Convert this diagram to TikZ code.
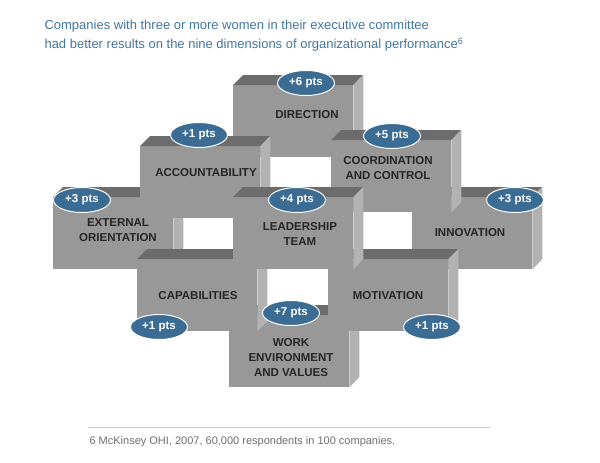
\documentclass[tikz,border=0pt]{standalone}
\usepackage{fontspec}
\setmainfont{Liberation Sans}
\usetikzlibrary{shapes.geometric}
\definecolor{titleblue}{RGB}{66,118,160}
\definecolor{badgeblue}{RGB}{58,108,148}
\definecolor{frontgray}{RGB}{152,152,152}
\definecolor{topgray}{RGB}{108,108,108}
\definecolor{sidegray}{RGB}{178,178,178}
\definecolor{notegray}{RGB}{110,110,110}
\tikzstyle{front} = [rectangle, anchor=north west, minimum width=120pt, minimum height=72pt, inner sep=0pt,
fill=frontgray]
\tikzstyle{topface} = [fill=topgray]
\tikzstyle{sideface} = [fill=sidegray]
\tikzstyle{boxlabel} = [align=center, font=\fontsize{11.5}{15}\selectfont\bfseries, text=black!85]
\tikzstyle{badge} = [ellipse, minimum width=57pt, minimum height=25pt, inner sep=0pt, fill=badgeblue,
draw=white, line width=1pt, text=white, font=\fontsize{11.5}{12}\selectfont\bfseries]

\newcommand{\block}[3]{%
    \node[front](#1) at (#2,#3) {};
    \fill[topface] (#1.north west) -- ++(10,-10) -- ++(120,0) -- (#1.north east) -- cycle;
    \fill[sideface] (#1.north east) -- ++(10,-10) -- ++(0,72) -- (#1.south east) -- cycle;
}

\begin{document}
\begin{tikzpicture}[x=1pt, y=-1pt]
    \useasboundingbox (0,0) rectangle (600,463);
    \node[anchor=north west, align=left, text=titleblue, font=\fontsize{13}{19}\selectfont](title) at (41,17)
    {Companies with three or more women in their executive committee\\
    had better results on the nine dimensions of organizational performance\textsuperscript{6}};

    % blocks, back to front
    \block{direction}{233}{85}
    \block{work}{229}{315}
    \block{external}{53}{197}
    \block{innovation}{412}{197}
    \block{accountability}{140}{146}
    \block{coordination}{331}{140}
    \block{capabilities}{137}{259}
    \block{motivation}{328}{259}
    \block{leadership}{233}{197}

    \node[boxlabel](directionText) at (307,115) {DIRECTION};
    \node[boxlabel](accountabilityText) at (206,173) {ACCOUNTABILITY};
    \node[boxlabel](coordinationText) at (388,168) {COORDINATION\\AND CONTROL};
    \node[boxlabel](externalText) at (118,230) {EXTERNAL\\ORIENTATION};
    \node[boxlabel](leadershipText) at (300,234) {LEADERSHIP\\TEAM};
    \node[boxlabel](innovationText) at (470,233) {INNOVATION};
    \node[boxlabel](capabilitiesText) at (198,296) {CAPABILITIES};
    \node[boxlabel](motivationText) at (388,296) {MOTIVATION};
    \node[boxlabel](workText) at (291,358) {WORK\\ENVIRONMENT\\AND VALUES};

    \node[badge](directionPts) at (306,83) {+6 pts};
    \node[badge](accountabilityPts) at (199,135) {+1 pts};
    \node[badge](coordinationPts) at (392,136) {+5 pts};
    \node[badge](externalPts) at (82,200) {+3 pts};
    \node[badge](leadershipPts) at (297,200) {+4 pts};
    \node[badge](innovationPts) at (515,200) {+3 pts};
    \node[badge](capabilitiesPts) at (159,327) {+1 pts};
    \node[badge](motivationPts) at (432,327) {+1 pts};
    \node[badge](workPts) at (291,313) {+7 pts};

%    footnote
    \coordinate(ruleLeft) at (88,427);
    \coordinate(ruleRight) at (490,427);
    \draw[gray!45, line width=0.8pt] (ruleLeft) -- (ruleRight);
    \node[anchor=west, text=notegray, font=\fontsize{11}{12}\selectfont](note) at (86,442)
    {6 McKinsey OHI, 2007, 60,000 respondents in 100 companies.};
\end{tikzpicture}
\end{document}
